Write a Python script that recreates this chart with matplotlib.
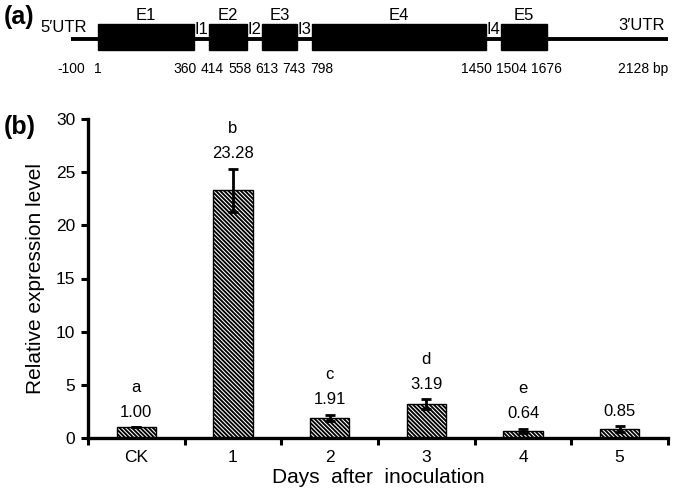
import matplotlib
matplotlib.use("Agg")
import matplotlib.pyplot as plt
from matplotlib.patches import Rectangle
import numpy as np

plt.rcParams['font.family'] = ['Liberation Sans', 'DejaVu Sans']
plt.rcParams['hatch.linewidth'] = 1.35

# ---- gene structure data (bp) ----
exon_names = ["E1", "E2", "E3", "E4", "E5"]
exon_starts = [1, 414, 613, 798, 1504]
exon_ends = [360, 558, 743, 1450, 1676]
intron_names = ["I1", "I2", "I3", "I4"]
gene_start = -100
gene_end = 2128

# ---- expression data ----
categories = ["CK", "1", "2", "3", "4", "5"]
values = [1.00, 23.28, 1.91, 3.19, 0.64, 0.85]
errors = [0.0, 2.0, 0.3, 0.45, 0.2, 0.25]
value_labels = ["1.00", "23.28", "1.91", "3.19", "0.64", "0.85"]
letters = ["a", "b", "c", "d", "e", ""]

W, H = 675, 496
fig = plt.figure(figsize=(W / 100, H / 100), dpi=100)

# ---------------- panel (a) ----------------
axa = fig.add_axes([0, 1 - 80 / H, 1, 80 / H])
axa.set_ylim(80, 0)
scale = 570 / 2127.0
axa.set_xlim(1 - 98 / scale, 1 + 577 / scale)
axa.axis('off')

axa.plot([gene_start, gene_end], [39, 39], color='black', lw=2.8,
         solid_capstyle='butt', zorder=1)
for name, s, e in zip(exon_names, exon_starts, exon_ends):
    axa.add_patch(Rectangle((s, 24), e - s, 26, facecolor='black',
                            edgecolor='black', zorder=2))
    axa.text((s + e) / 2, 16, name, ha='center', va='center', fontsize=12)
for name, e, s in zip(intron_names, exon_ends[:-1], exon_starts[1:]):
    axa.text((e + s) / 2, 30, name, ha='center', va='center', fontsize=12)

# position labels (bp), spread apart so they do not collide
pos_list = [gene_start]
txt_list = [str(gene_start)]
for s, e in zip(exon_starts, exon_ends):
    pos_list += [s, e]
    txt_list += [str(s), str(e)]
pos_list.append(gene_end)
txt_list.append(f"{gene_end} bp")
texts = [axa.text(p, 69, t, ha='center', va='center', fontsize=10)
         for p, t in zip(pos_list, txt_list)]

fig.text(4 / W, 1 - 17 / H, "(a)", fontsize=18, fontweight='bold',
         ha='left', va='center')
fig.text(40 / W, 1 - 27 / H, "5\u2032UTR", fontsize=12, ha='left', va='center')
fig.text(665 / W, 1 - 26 / H, "3\u2032UTR", fontsize=12, ha='right', va='center')

# ---------------- panel (b) ----------------
ax = fig.add_axes([88 / W, 1 - 438 / H, 580 / W, 319 / H])
x = np.arange(len(categories))
ax.bar(x, values, width=0.41, color='white', edgecolor='black',
       hatch='\\' * 8, linewidth=1.0, zorder=2)
ax.errorbar(x, values, yerr=errors, fmt='none', ecolor='black',
            elinewidth=2.0, capsize=3.5, capthick=2.0, zorder=3)

for xi, v, e, vl, lt in zip(x, values, errors, value_labels, letters):
    ax.annotate(vl, (xi, v + e), xytext=(0, 11), textcoords='offset points',
                ha='center', va='center', fontsize=12)
    if lt:
        ax.annotate(lt, (xi, v + e), xytext=(0, 29), textcoords='offset points',
                    ha='center', va='center', fontsize=12)

ax.set_xlim(-0.5, len(categories) - 0.5)
ax.set_ylim(0, 30)
ax.set_yticks(np.arange(0, 31, 5))
ax.set_xticks(np.arange(-0.5, len(categories), 1.0))
ax.set_xticklabels([])
ax.set_xticks(x, minor=True)
ax.set_xticklabels(categories, minor=True)
ax.tick_params(axis='x', which='minor', length=0, labelsize=12.5, pad=9)
ax.tick_params(axis='x', which='major', length=5, width=2.2, direction='out')
ax.tick_params(axis='y', length=5, width=2.2, direction='out', labelsize=12.5, pad=4)
for sp in ['top', 'right']:
    ax.spines[sp].set_visible(False)
for sp in ['left', 'bottom']:
    ax.spines[sp].set_linewidth(2.4)
ax.set_ylabel("Relative expression level", fontsize=15, labelpad=8)
ax.set_xlabel("Days  after  inoculation", fontsize=15, labelpad=2)

fig.text(4 / W, 1 - 127 / H, "(b)", fontsize=18, fontweight='bold',
         ha='left', va='center')

# ---- spread the bp labels horizontally ----
fig.canvas.draw()
renderer = fig.canvas.get_renderer()
ydisp = axa.transData.transform((0, 69))[1]
centers = np.array([axa.transData.transform((p, 69))[0] for p in pos_list])
widths = np.array([t.get_window_extent(renderer).width for t in texts])
centers[-1] = axa.transData.transform((gene_end, 69))[0] - widths[-1] / 2
gap = 4.0
for _ in range(500):
    moved = False
    for i in range(len(centers) - 1):
        ov = (centers[i] + widths[i] / 2 + gap) - (centers[i + 1] - widths[i + 1] / 2)
        if ov > 0.01:
            if i + 1 == len(centers) - 1:
                centers[i] -= ov
            else:
                centers[i] -= ov / 2
                centers[i + 1] += ov / 2
            moved = True
    if not moved:
        break
inv = axa.transData.inverted()
for t, c in zip(texts, centers):
    t.set_x(inv.transform((c, ydisp))[0])

fig.savefig("out.png", dpi=100)
